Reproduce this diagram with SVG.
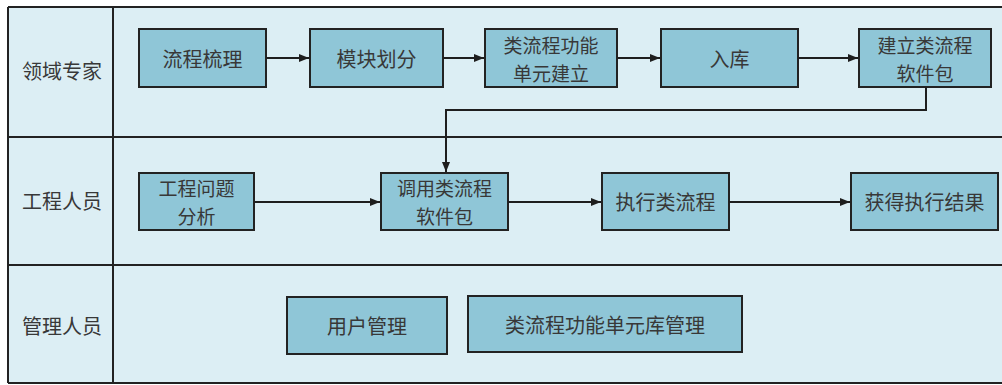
<svg xmlns="http://www.w3.org/2000/svg" width="1002" height="385" viewBox="0 0 1002 385">
<defs>
<marker id="ah" viewBox="0 0 10 10" refX="10" refY="5" markerWidth="13" markerHeight="10" markerUnits="userSpaceOnUse" orient="auto">
<path d="M0,1 L10,5 L0,9 z" fill="#1e1e1e"/>
</marker>
<style>
.node rect{fill:#8fc6d7;stroke:#222;stroke-width:2}
.frame{fill:none;stroke:#222;stroke-width:2}
text{font-family:"Noto Sans CJK SC","Noto Sans",sans-serif;font-size:20px;fill:#383838;text-anchor:middle;dominant-baseline:central}
text.two{font-size:19px}
.conn path{fill:none;stroke:#1e1e1e;stroke-width:2;marker-end:url(#ah)}
</style>
</defs>
<rect x="0" y="0" width="1002" height="385" fill="#ffffff"/>
<rect x="8" y="7" width="994" height="377" fill="#dceef4"/>
<g id="lanes" class="frame">
<path d="M8,7 H1002 M8,137 H1002 M8,265 H1002 M8,383 H1002 M8,7 V383 M113,7 V383"/>
</g>
<g id="lane-labels">
<text x="62" y="70">领域专家</text>
<text x="62" y="200">工程人员</text>
<text x="62" y="325">管理人员</text>
</g>
<g id="n1" class="node"><rect x="139" y="29" width="127" height="58"/><text x="202.5" y="58">流程梳理</text></g>
<g id="n2" class="node"><rect x="310" y="29" width="133" height="58"/><text x="376.5" y="58">模块划分</text></g>
<g id="n3" class="node"><rect x="485" y="29" width="132" height="58"/><text class="two" x="551" y="44">类流程功能</text><text class="two" x="551" y="72">单元建立</text></g>
<g id="n4" class="node"><rect x="661" y="29" width="137" height="58"/><text x="729.5" y="58">入库</text></g>
<g id="n5" class="node"><rect x="859" y="29" width="132" height="58"/><text class="two" x="925" y="44">建立类流程</text><text class="two" x="925" y="72">软件包</text></g>
<g id="n6" class="node"><rect x="139" y="173" width="115" height="57"/><text class="two" x="196.5" y="187.5">工程问题</text><text class="two" x="196.5" y="215.5">分析</text></g>
<g id="n7" class="node"><rect x="381" y="173" width="127" height="57"/><text class="two" x="444.5" y="187.5">调用类流程</text><text class="two" x="444.5" y="215.5">软件包</text></g>
<g id="n8" class="node"><rect x="602" y="173" width="127" height="57"/><text x="665.5" y="201.5">执行类流程</text></g>
<g id="n9" class="node"><rect x="851" y="173" width="147" height="57"/><text x="924.5" y="201.5">获得执行结果</text></g>
<g id="n10" class="node"><rect x="287" y="297" width="160" height="57"/><text x="367" y="325.5">用户管理</text></g>
<g id="n11" class="node"><rect x="468" y="296" width="274" height="56"/><text x="605" y="324">类流程功能单元库管理</text></g>
<g id="connectors" class="conn">
<path d="M266,58 H309"/>
<path d="M443,58 H484"/>
<path d="M617,58 H660"/>
<path d="M798,58 H858"/>
<path d="M926,87 V110 H446 V172"/>
<path d="M254,202 H380"/>
<path d="M508,202 H601"/>
<path d="M729,202 H850"/>
</g>
</svg>
